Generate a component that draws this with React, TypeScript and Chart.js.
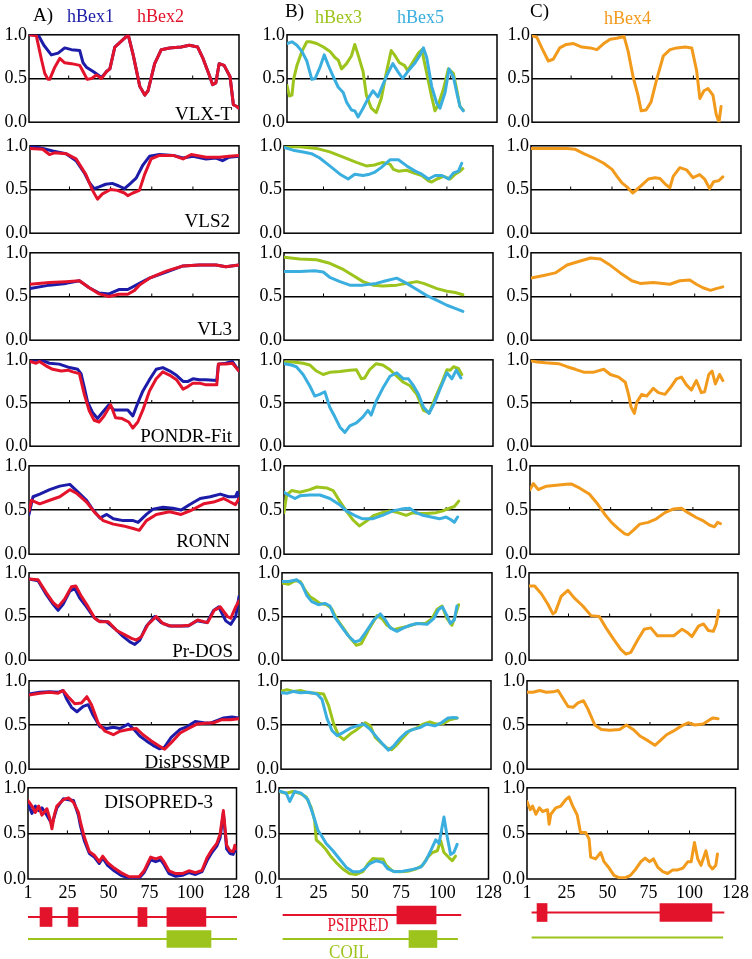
import React, { useEffect, useRef } from 'react';
import { Chart, registerables } from 'chart.js';

Chart.register(...registerables);

type Pt = [number, number];

// ---------- tick labels / categories ----------
const X_TICKS = [1, 25, 50, 75, 100, 128];
const Y_TICKS = [0, 0.5, 1];
const MINOR_TICKS = [25, 50, 75, 100];
const PREDICTORS = ['VLX-T', 'VLS2', 'VL3', 'PONDR-Fit', 'RONN', 'Pr-DOS', 'DisPSSMP', 'DISOPRED-3'];

// ---------- colours ----------
const COLOR_HBEX1 = '#1c1ca8';
const COLOR_HBEX2 = '#e3132c';
const COLOR_HBEX3 = '#9cc41c';
const COLOR_HBEX5 = '#3aaede';
const COLOR_HBEX4 = '#f29a1c';

// ---------- column A : hBex1 / hBex2 ----------
const VLXT_HBEX1_HEAD: Pt[] = [[1, 1.0], [6.5, 1.0], [10, 0.88], [14.5, 0.77], [18.6, 0.79], [22.6, 0.85], [26.7, 0.83], [31.7, 0.82], [33.7, 0.68], [35.7, 0.63], [39.8, 0.58], [42.8, 0.54], [44.8, 0.51]];
const VLXT_HBEX2_HEAD: Pt[] = [[1, 1.0], [5.4, 0.99], [8.5, 0.72], [10.5, 0.56], [12.5, 0.49], [13.5, 0.49], [16.6, 0.63], [19.6, 0.73], [22.6, 0.68], [26.7, 0.67], [31.7, 0.65], [33.7, 0.58], [36.2, 0.49], [38.8, 0.5], [41.8, 0.54], [44.8, 0.5]];
const VLXT_HBEX12_TAIL: Pt[] = [[47.9, 0.58], [49.9, 0.61], [52.9, 0.86], [57, 0.93], [61, 1.0], [64, 0.77], [68, 0.41], [71, 0.31], [73, 0.36], [77, 0.67], [81, 0.83], [86, 0.85], [93, 0.86], [98, 0.88], [103, 0.86], [106, 0.74], [110, 0.54], [112, 0.43], [114, 0.45], [116, 0.67], [119, 0.65], [122.6, 0.52], [124.6, 0.2], [126.7, 0.18], [128, 0.16]];

const VLS2_HBEX1: Pt[] = [[1, 1.0], [8.7, 0.97], [14.8, 0.94], [22.9, 0.91], [29, 0.83], [34, 0.69], [37, 0.58], [40, 0.51], [43, 0.53], [47, 0.56], [51, 0.57], [55, 0.54], [58.4, 0.51], [61.4, 0.56], [65.5, 0.63], [69.6, 0.78], [73.6, 0.88], [79.7, 0.9], [88, 0.89], [94, 0.86], [100, 0.88], [108, 0.85], [114, 0.86], [118, 0.83], [122, 0.87], [128, 0.88]];
const VLS2_HBEX2: Pt[] = [[1, 0.97], [8.7, 0.96], [12.8, 0.9], [15.8, 0.92], [22.9, 0.91], [29, 0.85], [35, 0.67], [39, 0.49], [42, 0.39], [45, 0.45], [50, 0.5], [54, 0.49], [58.4, 0.46], [60.4, 0.43], [63.5, 0.46], [67.5, 0.49], [70.6, 0.67], [74.6, 0.85], [79.7, 0.89], [88, 0.89], [94, 0.85], [99, 0.9], [108, 0.87], [116, 0.87], [122, 0.88], [128, 0.89]];

const VL3_HBEX1: Pt[] = [[1, 0.59], [12.8, 0.63], [22.9, 0.65], [31, 0.68], [37, 0.6], [43, 0.54], [49, 0.53], [55, 0.58], [60.4, 0.58], [67.5, 0.65], [73.6, 0.71], [83.8, 0.78], [94, 0.85], [104, 0.86], [114, 0.86], [120, 0.84], [128, 0.86]];
const VL3_HBEX2: Pt[] = [[1, 0.64], [12.8, 0.66], [22.9, 0.67], [31, 0.68], [37, 0.6], [43, 0.53], [49, 0.5], [55, 0.525], [60.4, 0.525], [64.5, 0.57], [67.5, 0.63], [73.6, 0.71], [83.8, 0.79], [94, 0.85], [104, 0.86], [114, 0.86], [120, 0.84], [128, 0.86]];

const PONDR_HBEX1: Pt[] = [[1, 1.0], [8.7, 0.99], [12.8, 0.96], [18.8, 0.95], [25, 0.91], [30, 0.89], [32, 0.84], [34, 0.68], [36, 0.51], [39, 0.39], [42, 0.32], [45, 0.39], [49, 0.48], [52, 0.42], [56, 0.42], [60.4, 0.42], [63.5, 0.35], [66.5, 0.5], [69.6, 0.64], [73.6, 0.77], [77.7, 0.89], [81.7, 0.91], [86, 0.87], [90, 0.82], [94, 0.75], [97, 0.75], [100, 0.78], [104, 0.77], [108, 0.77], [114.5, 0.76], [115.5, 0.95], [120, 0.96], [124, 0.98], [128, 0.87]];
const PONDR_HBEX2: Pt[] = [[1, 0.98], [4.7, 0.96], [6.7, 0.98], [10.7, 0.93], [14.8, 0.89], [20, 0.87], [24, 0.88], [27, 0.86], [31, 0.84], [34, 0.6], [37, 0.41], [40, 0.3], [43, 0.28], [46, 0.35], [50, 0.48], [53, 0.33], [57, 0.32], [61, 0.28], [63.5, 0.21], [66.5, 0.28], [69.6, 0.42], [73.6, 0.64], [77.7, 0.78], [81.7, 0.86], [86, 0.82], [90, 0.77], [94, 0.66], [97, 0.69], [100, 0.73], [104, 0.73], [108, 0.71], [114.5, 0.71], [115.5, 0.95], [120, 0.95], [124, 0.96], [128, 0.87]];

const RONN_HBEX1: Pt[] = [[1, 0.45], [3.4, 0.65], [7.5, 0.68], [13.5, 0.73], [19.6, 0.77], [25.7, 0.79], [29.7, 0.72], [35.8, 0.61], [39.8, 0.5], [43.9, 0.41], [48, 0.45], [52, 0.4], [58, 0.38], [64, 0.38], [67, 0.36], [72, 0.45], [76, 0.51], [82, 0.53], [88, 0.52], [93, 0.5], [98, 0.56], [104.5, 0.63], [110.6, 0.65], [116.7, 0.68], [121.7, 0.65], [125.8, 0.65], [127, 0.7], [128, 0.59]];
const RONN_HBEX2: Pt[] = [[1, 0.49], [2.5, 0.61], [7.5, 0.57], [13.5, 0.61], [19.6, 0.65], [25.7, 0.73], [29.7, 0.69], [35.8, 0.59], [40.8, 0.47], [45.9, 0.38], [52, 0.34], [58, 0.32], [64, 0.29], [67.7, 0.27], [72, 0.38], [78, 0.45], [86, 0.48], [93, 0.45], [99.5, 0.5], [106.6, 0.57], [112.6, 0.59], [118.7, 0.63], [122.7, 0.59], [125.8, 0.56], [128, 0.63]];

const PRDOS_HBEX1: Pt[] = [[1, 0.93], [6.5, 0.91], [11.5, 0.75], [15.6, 0.64], [18.6, 0.57], [21.6, 0.64], [25.7, 0.79], [28.7, 0.82], [31.7, 0.71], [35.8, 0.61], [39.8, 0.5], [42.9, 0.45], [48, 0.44], [53, 0.36], [58, 0.27], [62, 0.21], [65, 0.18], [68, 0.23], [72, 0.39], [77, 0.5], [81, 0.43], [86, 0.39], [92, 0.39], [97, 0.39], [102.5, 0.45], [108.6, 0.43], [112.6, 0.57], [115.7, 0.61], [120, 0.45], [123, 0.41], [126, 0.5], [128, 0.73]];
const PRDOS_HBEX2: Pt[] = [[1, 0.93], [6.5, 0.92], [11.5, 0.77], [15.6, 0.66], [18.6, 0.61], [22.6, 0.7], [26.7, 0.84], [29.3, 0.85], [32.7, 0.73], [36.8, 0.61], [40.8, 0.48], [43.9, 0.44], [49, 0.44], [54, 0.34], [59, 0.29], [63, 0.25], [66, 0.23], [69, 0.27], [73, 0.41], [78, 0.5], [82, 0.42], [87, 0.39], [93, 0.39], [98, 0.4], [103, 0.46], [109, 0.43], [113, 0.57], [116.7, 0.61], [121, 0.5], [123, 0.48], [126, 0.61], [128, 0.68]];

const DISPSSMP_HBEX1: Pt[] = [[1, 0.85], [7.5, 0.87], [13.5, 0.875], [18.6, 0.87], [21.6, 0.89], [23.6, 0.8], [26.7, 0.7], [30, 0.65], [33.8, 0.71], [36.8, 0.73], [39.8, 0.61], [43.9, 0.48], [48, 0.46], [52, 0.475], [56, 0.46], [61, 0.51], [64, 0.46], [68, 0.375], [72, 0.32], [76, 0.27], [80, 0.23], [83, 0.25], [87, 0.36], [92.4, 0.45], [96.4, 0.48], [101.5, 0.54], [106.6, 0.525], [110.6, 0.52], [114.6, 0.55], [118.7, 0.58], [123.7, 0.59], [128, 0.58]];
const DISPSSMP_HBEX2: Pt[] = [[1, 0.84], [7.5, 0.86], [13.5, 0.87], [18.6, 0.86], [21.6, 0.89], [24.7, 0.82], [28.7, 0.74], [32.7, 0.75], [36, 0.82], [38.8, 0.73], [42.9, 0.52], [47, 0.43], [52, 0.39], [56, 0.43], [61, 0.45], [66, 0.46], [70, 0.39], [75, 0.32], [79, 0.27], [83, 0.225], [87, 0.3], [92.4, 0.41], [97.5, 0.46], [102.5, 0.51], [107.6, 0.52], [112.6, 0.525], [117.7, 0.56], [122.7, 0.56], [128, 0.57]];

const DISOPRED_HBEX1: Pt[] = [[1, 0.83], [3.4, 0.72], [5.5, 0.8], [7.5, 0.75], [9.5, 0.78], [12.5, 0.7], [15.6, 0.6], [18.6, 0.78], [22.6, 0.88], [25.7, 0.87], [28.7, 0.86], [31.7, 0.7], [33, 0.58], [35.3, 0.42], [38.4, 0.28], [41.4, 0.24], [44.4, 0.17], [46.5, 0.23], [49.5, 0.15], [53.5, 0.09], [57.6, 0.04], [62.6, 0.01], [68.7, 0.01], [71.7, 0.07], [75.7, 0.21], [78.8, 0.19], [81.8, 0.21], [83.8, 0.16], [86.9, 0.06], [91, 0.03], [95, 0.04], [99, 0.07], [103, 0.05], [107, 0.08], [110, 0.2], [113, 0.29], [116, 0.36], [118, 0.45], [120, 0.72], [122, 0.33], [124, 0.28], [126, 0.27], [127, 0.33], [128, 0.3]];
const DISOPRED_HBEX2: Pt[] = [[1, 0.86], [3.4, 0.8], [5.5, 0.73], [7.5, 0.8], [9.5, 0.7], [12.5, 0.77], [14.5, 0.65], [15.6, 0.55], [17, 0.7], [18.6, 0.8], [22.6, 0.87], [25.7, 0.89], [28.7, 0.84], [31.7, 0.73], [33, 0.62], [35.3, 0.46], [38.4, 0.3], [41.4, 0.26], [44.4, 0.19], [46.5, 0.25], [49.5, 0.18], [53.5, 0.12], [57.6, 0.07], [62.6, 0.025], [68.7, 0.025], [71.7, 0.09], [75.7, 0.24], [78.8, 0.22], [81.8, 0.24], [83.8, 0.19], [86.9, 0.09], [91, 0.06], [95, 0.06], [99, 0.09], [103, 0.07], [107, 0.095], [110, 0.23], [113, 0.32], [116, 0.39], [118, 0.49], [120, 0.75], [122, 0.37], [124, 0.31], [126, 0.3], [127, 0.37], [128, 0.33]];

// ---------- column B : hBex3 / hBex5 ----------
const VLXT_HBEX3: Pt[] = [[1, 0.42], [2.5, 0.3], [4, 0.31], [5, 0.49], [7, 0.65], [10, 0.81], [13, 0.92], [15, 0.92], [19, 0.9], [23, 0.86], [27, 0.81], [30, 0.74], [32, 0.71], [34, 0.61], [37, 0.67], [40, 0.76], [42, 0.89], [44, 0.77], [47, 0.58], [49, 0.31], [52, 0.16], [55, 0.11], [58, 0.27], [61, 0.56], [64, 0.82], [66, 0.77], [69, 0.68], [72, 0.65], [74, 0.59], [77.5, 0.7], [80.5, 0.79], [82.5, 0.83], [85.5, 0.56], [88.5, 0.29], [90.5, 0.13], [92.5, 0.2], [95.6, 0.38], [98.6, 0.61], [101.6, 0.56], [103.6, 0.38], [105.6, 0.18], [107.6, 0.14]];
const VLXT_HBEX5: Pt[] = [[1, 0.9], [4, 0.92], [7, 0.88], [10, 0.81], [13, 0.7], [16, 0.49], [18, 0.5], [21, 0.63], [23.5, 0.77], [26, 0.65], [29, 0.52], [32, 0.4], [35, 0.34], [37, 0.23], [40, 0.14], [42, 0.13], [44, 0.06], [47, 0.16], [50, 0.27], [53, 0.36], [56, 0.29], [59, 0.43], [62, 0.56], [65, 0.67], [68, 0.58], [71, 0.5], [74, 0.58], [78.5, 0.68], [81.5, 0.77], [83.5, 0.85], [85.5, 0.74], [88.5, 0.41], [91.5, 0.22], [93.5, 0.16], [96.6, 0.34], [99, 0.61], [101.6, 0.52], [104, 0.31], [105.6, 0.18], [107.6, 0.13]];

const VLS2_HBEX3: Pt[] = [[1, 0.99], [10.6, 0.99], [20.7, 0.97], [28.8, 0.93], [37, 0.87], [45, 0.81], [51, 0.77], [56, 0.78], [61, 0.81], [65.4, 0.79], [67.5, 0.73], [70.5, 0.71], [75.6, 0.72], [79.7, 0.69], [84.7, 0.66], [88.8, 0.6], [90.8, 0.585], [93.9, 0.62], [98, 0.65], [102, 0.62], [105, 0.675], [108, 0.71], [109.7, 0.74]];
const VLS2_HBEX5: Pt[] = [[1, 0.98], [6.5, 0.95], [12.6, 0.93], [17.7, 0.91], [22.7, 0.86], [28.8, 0.77], [35, 0.675], [40, 0.62], [44, 0.675], [49, 0.66], [53, 0.675], [56.3, 0.7], [60, 0.75], [65.4, 0.84], [70.5, 0.84], [75.6, 0.77], [80.7, 0.71], [84.7, 0.675], [88.8, 0.62], [92.9, 0.66], [97, 0.66], [101, 0.62], [104, 0.69], [107, 0.71], [109, 0.8]];

const VL3_HBEX3: Pt[] = [[1, 0.95], [10.6, 0.93], [20.7, 0.92], [28.8, 0.88], [37, 0.81], [43, 0.74], [49, 0.67], [55, 0.63], [61, 0.62], [69.5, 0.63], [75.6, 0.65], [81.7, 0.67], [85.8, 0.65], [94, 0.59], [100, 0.56], [105, 0.545], [109.7, 0.52]];
const VL3_HBEX5: Pt[] = [[1, 0.785], [10.6, 0.785], [19.7, 0.795], [24.8, 0.78], [28.8, 0.72], [35, 0.67], [41, 0.63], [49, 0.63], [57, 0.65], [63, 0.68], [69.5, 0.71], [75.6, 0.65], [81.7, 0.58], [87.8, 0.51], [94, 0.455], [100, 0.4], [105, 0.365], [109.7, 0.33]];

const PONDR_HBEX3: Pt[] = [[1, 0.975], [6.5, 0.975], [12.6, 0.96], [16.6, 0.94], [20.7, 0.87], [24.8, 0.83], [28.8, 0.855], [35, 0.865], [41, 0.88], [45, 0.885], [48, 0.78], [50, 0.79], [53, 0.885], [57, 0.955], [61, 0.94], [65.4, 0.885], [69.5, 0.81], [73.6, 0.74], [77.6, 0.7], [81.7, 0.6], [85.8, 0.415], [89.2, 0.385], [92.9, 0.56], [97, 0.74], [100, 0.885], [102, 0.88], [104, 0.92], [107, 0.9], [109, 0.83]];
const PONDR_HBEX5: Pt[] = [[1, 0.955], [5.5, 0.94], [8.5, 0.92], [12.6, 0.83], [16.6, 0.7], [19.7, 0.58], [22.7, 0.6], [25.8, 0.63], [28.8, 0.45], [31.9, 0.34], [35, 0.22], [38, 0.16], [41, 0.235], [45, 0.27], [49, 0.34], [52, 0.415], [54, 0.36], [57, 0.52], [61, 0.67], [65.4, 0.81], [69.5, 0.85], [73.6, 0.78], [76.6, 0.78], [79.7, 0.7], [82.7, 0.6], [85.8, 0.45], [89.2, 0.38], [92.9, 0.52], [96, 0.67], [100, 0.85], [103, 0.78], [105.7, 0.88], [108.5, 0.79]];

const RONN_HBEX3: Pt[] = [[1, 0.47], [2.6, 0.67], [5.7, 0.72], [10.7, 0.7], [16.8, 0.73], [20.9, 0.76], [27, 0.75], [31, 0.72], [35, 0.6], [39, 0.49], [43, 0.39], [47, 0.32], [51, 0.37], [56, 0.44], [61, 0.47], [65.5, 0.49], [70.6, 0.47], [75.6, 0.44], [79.7, 0.47], [83.8, 0.46], [88, 0.46], [94, 0.47], [98, 0.49], [102, 0.52], [105, 0.54], [107.7, 0.6]];
const RONN_HBEX5: Pt[] = [[1, 0.7], [3.6, 0.67], [7.7, 0.63], [10.7, 0.66], [16.8, 0.67], [22.9, 0.67], [29, 0.63], [35, 0.56], [39, 0.49], [44, 0.44], [49, 0.4], [55, 0.4], [61, 0.44], [67.5, 0.49], [72.6, 0.51], [77.7, 0.52], [81.7, 0.47], [85.8, 0.44], [90.8, 0.42], [96, 0.4], [100, 0.42], [103, 0.39], [105, 0.36], [107, 0.42]];

const PRDOS_HBEX3: Pt[] = [[1, 0.885], [5, 0.87], [9, 0.91], [12, 0.9], [15, 0.8], [18, 0.725], [21, 0.69], [24, 0.65], [28, 0.635], [31, 0.59], [34, 0.475], [38, 0.37], [42, 0.26], [46, 0.17], [49, 0.19], [54, 0.37], [58.5, 0.51], [61.5, 0.475], [64.5, 0.4], [68.5, 0.35], [72.6, 0.37], [76.6, 0.385], [82.6, 0.42], [87.7, 0.42], [91.7, 0.475], [94.7, 0.58], [97.8, 0.62], [100.8, 0.475], [103.8, 0.4], [105.8, 0.51], [107.8, 0.635]];
const PRDOS_HBEX5: Pt[] = [[1, 0.9], [5, 0.9], [10, 0.92], [13, 0.87], [16, 0.74], [19, 0.67], [23, 0.635], [27, 0.65], [30, 0.62], [33, 0.49], [37, 0.385], [41, 0.28], [45, 0.21], [48, 0.225], [52, 0.33], [56.5, 0.46], [60.5, 0.53], [63.5, 0.46], [66.5, 0.37], [70.5, 0.33], [74.6, 0.37], [78.6, 0.4], [82.6, 0.42], [88.7, 0.41], [92.7, 0.475], [95.7, 0.58], [98, 0.61], [100.8, 0.51], [102.8, 0.42], [105.2, 0.46], [106.8, 0.62]];

const DISPSSMP_HBEX3: Pt[] = [[1, 0.88], [4.6, 0.9], [8.7, 0.88], [12.7, 0.89], [17.7, 0.865], [22.8, 0.86], [26.8, 0.85], [29.8, 0.72], [32.9, 0.51], [35.9, 0.38], [38.9, 0.335], [43, 0.4], [47, 0.45], [52, 0.525], [55, 0.49], [58, 0.36], [62, 0.29], [65, 0.24], [68, 0.22], [71, 0.275], [75, 0.36], [79, 0.44], [83, 0.465], [87, 0.51], [91, 0.535], [95, 0.51], [99, 0.515], [103, 0.56], [107.5, 0.58]];
const DISPSSMP_HBEX5: Pt[] = [[1, 0.865], [4.6, 0.86], [8.7, 0.88], [12.7, 0.865], [17.7, 0.87], [22.8, 0.85], [25.8, 0.79], [28.8, 0.575], [31.9, 0.435], [35, 0.38], [39, 0.42], [43, 0.465], [47, 0.49], [51, 0.51], [55, 0.45], [59, 0.36], [63, 0.275], [66, 0.215], [69, 0.26], [73, 0.35], [77, 0.42], [81, 0.45], [85, 0.47], [89, 0.51], [94, 0.49], [98, 0.525], [102, 0.58], [105.6, 0.585], [107.5, 0.58]];

const DISOPRED_HBEX3: Pt[] = [[1, 0.96], [5.4, 0.94], [9.5, 0.96], [13.5, 0.94], [17.5, 0.9], [20.6, 0.78], [22.6, 0.64], [23.6, 0.43], [26.6, 0.38], [29.6, 0.32], [32.7, 0.24], [35.7, 0.18], [39.7, 0.11], [43.7, 0.06], [47.8, 0.05], [51.8, 0.08], [54.8, 0.165], [57.9, 0.225], [60.9, 0.22], [64, 0.22], [66, 0.15], [70, 0.085], [74, 0.08], [79, 0.085], [84, 0.11], [88, 0.15], [91, 0.235], [94, 0.29], [97, 0.31], [99, 0.42], [101, 0.29], [104, 0.235], [106, 0.2], [108, 0.25]];
const DISOPRED_HBEX5: Pt[] = [[1, 0.965], [5.4, 0.94], [7.5, 0.85], [10.5, 0.96], [14.5, 0.94], [18.5, 0.87], [21.6, 0.71], [24.6, 0.535], [26.6, 0.48], [29.6, 0.39], [33.7, 0.31], [37.7, 0.22], [41.7, 0.13], [45.8, 0.08], [49.8, 0.08], [52.8, 0.11], [55.8, 0.165], [60, 0.2], [64, 0.18], [67, 0.11], [71, 0.08], [76, 0.085], [82, 0.105], [87, 0.13], [90, 0.2], [93, 0.31], [96, 0.43], [98, 0.39], [101, 0.68], [103, 0.46], [105, 0.27], [107, 0.29], [109, 0.38]];

// ---------- column C : hBex4 ----------
const VLXT_HBEX4: Pt[] = [[1, 0.99], [4, 0.97], [7, 0.85], [11, 0.7], [14, 0.72], [18, 0.85], [22, 0.89], [26.5, 0.9], [31.6, 0.86], [36.7, 0.85], [40.8, 0.83], [45, 0.9], [49, 0.95], [53, 0.96], [57.5, 0.98], [60, 0.81], [63, 0.52], [66, 0.31], [68, 0.13], [71, 0.14], [74, 0.23], [77.5, 0.49], [81.6, 0.76], [85.7, 0.83], [89.8, 0.85], [95, 0.86], [99, 0.85], [102, 0.59], [104, 0.27], [106.5, 0.36], [109, 0.385], [112, 0.31], [114, 0.09], [115.7, 0.0], [117, 0.18]];
const VLS2_HBEX4: Pt[] = [[1, 0.97], [12.7, 0.97], [22.8, 0.97], [27.8, 0.96], [32.9, 0.91], [39, 0.86], [45, 0.8], [50, 0.73], [53, 0.65], [56, 0.575], [59, 0.53], [62.5, 0.46], [65, 0.5], [68, 0.55], [72, 0.62], [76, 0.635], [79, 0.625], [82, 0.565], [85, 0.52], [87, 0.65], [91, 0.75], [95, 0.725], [99, 0.635], [103, 0.67], [106, 0.62], [109, 0.51], [111.5, 0.59], [114.5, 0.6], [117, 0.645]];
const VL3_HBEX4: Pt[] = [[1, 0.71], [8.7, 0.74], [15.7, 0.77], [22.8, 0.86], [29.8, 0.9], [37, 0.94], [43, 0.93], [48, 0.87], [55, 0.77], [62, 0.68], [67, 0.65], [75, 0.66], [85, 0.64], [91, 0.68], [97, 0.69], [101, 0.64], [105, 0.6], [109.5, 0.57], [113, 0.59], [117, 0.61]];
const PONDR_HBEX4: Pt[] = [[1, 0.99], [4.6, 0.975], [9.7, 0.965], [17.7, 0.955], [22.8, 0.92], [27.8, 0.89], [32.9, 0.857], [39, 0.857], [45, 0.89], [49, 0.83], [54, 0.8], [58, 0.74], [60, 0.6], [61.5, 0.455], [63.5, 0.38], [65, 0.51], [68, 0.6], [71, 0.58], [75, 0.67], [78, 0.62], [82, 0.6], [85, 0.67], [89, 0.78], [92, 0.8], [95, 0.71], [98, 0.65], [101, 0.76], [104, 0.62], [106, 0.63], [108.5, 0.83], [110.5, 0.87], [112.5, 0.72], [115, 0.83], [117, 0.76]];
const RONN_HBEX4: Pt[] = [[1, 0.73], [3, 0.8], [6, 0.73], [11, 0.77], [17, 0.78], [23, 0.79], [26, 0.795], [31, 0.75], [37, 0.68], [42, 0.57], [46.5, 0.45], [50.5, 0.36], [54.6, 0.29], [58.6, 0.23], [60.7, 0.22], [63.7, 0.27], [67.7, 0.34], [72.8, 0.36], [77.8, 0.4], [83, 0.47], [88, 0.51], [93, 0.52], [97, 0.47], [102, 0.415], [106, 0.38], [110, 0.33], [113, 0.31], [115, 0.36], [116.7, 0.345]];
const PRDOS_HBEX4: Pt[] = [[1, 0.85], [4.4, 0.85], [8.5, 0.76], [12.5, 0.64], [15.5, 0.53], [17, 0.55], [20.5, 0.73], [24.6, 0.8], [28.6, 0.71], [33.7, 0.62], [38.7, 0.51], [43.7, 0.5], [47.8, 0.37], [52.8, 0.23], [56.8, 0.124], [59.9, 0.07], [62.9, 0.09], [67, 0.23], [71, 0.355], [75, 0.37], [79, 0.28], [84, 0.28], [89, 0.28], [94, 0.355], [97, 0.32], [100, 0.27], [104, 0.39], [107, 0.415], [110, 0.34], [113, 0.33], [114.7, 0.41], [116.3, 0.57]];
const DISPSSMP_HBEX4: Pt[] = [[1, 0.87], [4.6, 0.87], [8.6, 0.89], [12.6, 0.87], [16.7, 0.875], [19.7, 0.89], [22.7, 0.8], [25.7, 0.71], [28.7, 0.7], [31.7, 0.75], [35, 0.775], [37.7, 0.68], [41.8, 0.5], [45.8, 0.45], [50.8, 0.44], [56.8, 0.45], [60.8, 0.5], [64.9, 0.45], [69, 0.375], [74, 0.32], [78, 0.27], [81, 0.32], [85, 0.39], [89, 0.43], [94, 0.49], [98, 0.525], [102, 0.5], [107, 0.51], [111, 0.56], [113, 0.58], [116, 0.57]];
const DISOPRED_HBEX4: Pt[] = [[1, 0.85], [3, 0.76], [4.4, 0.8], [6.4, 0.71], [8.5, 0.78], [10.5, 0.74], [13.5, 0.76], [14.5, 0.6], [15.5, 0.71], [18.5, 0.78], [21.6, 0.8], [24.6, 0.87], [26.6, 0.9], [28.6, 0.81], [31.6, 0.7], [33.6, 0.51], [36.7, 0.51], [38.8, 0.44], [39.8, 0.24], [42.8, 0.22], [45.9, 0.29], [47.9, 0.19], [51, 0.12], [54, 0.04], [57, 0.015], [61, 0.015], [64, 0.04], [67.3, 0.11], [70.4, 0.19], [73, 0.23], [75.5, 0.19], [78, 0.22], [80.6, 0.13], [83.7, 0.08], [86.7, 0.06], [89.8, 0.1], [92.8, 0.1], [96, 0.12], [99, 0.19], [101, 0.19], [103, 0.4], [105, 0.22], [107, 0.15], [110, 0.31], [112, 0.15], [114, 0.11], [116, 0.15], [117, 0.275]];

// ---------- domain annotations (residue ranges) ----------
const A_PSIPRED_SPAN: Pt = [1, 128];
const A_PSIPRED_BOXES: Pt[] = [[8.3, 15.6], [25.3, 31.4], [67.8, 73.3], [85.4, 109.1]];
const A_COIL_SPAN: Pt = [1, 128];
const A_COIL_BOXES: Pt[] = [[85.4, 112.2]];
const B_PSIPRED_SPAN: Pt = [3.4, 111];
const B_PSIPRED_BOXES: Pt[] = [[72.3, 96]];
const B_COIL_SPAN: Pt = [3.4, 109];
const B_COIL_BOXES: Pt[] = [[79.6, 96.5]];
const C_PSIPRED_SPAN: Pt = [4, 120.7];
const C_PSIPRED_BOXES: Pt[] = [[7.1, 13.2], [81.8, 113.4]];
const C_COIL_SPAN: Pt = [4, 120];
const C_COIL_BOXES: Pt[] = [];

// ---------- layout ----------
const SERIF = "'Liberation Serif', 'DejaVu Serif', serif";
const ROW_TOP = [32, 143, 250, 357, 463, 570, 678, 785];
const ROW_BOTTOM = [125, 236, 343, 449, 557, 663, 772, 879];
const COL_LEFT = [
  [29, 30, 30, 30, 29, 29, 29, 28],
  [287, 284, 284, 284, 284, 282, 281, 279],
  [532, 531, 531, 531, 530, 529, 527, 527],
];
const COL_RIGHT = [
  [239, 239, 239, 239, 239, 239, 239, 237],
  [497, 493, 493, 493, 492, 492, 491, 489],
  [739, 741, 741, 741, 739, 738, 738, 736],
];
const Y_AXIS_W = 30;
const PAD_T = 10;
const PAD_R = 16;
const PAD_B = 10;
const X_AXIS_H = 24;

type Series = { data: Pt[]; color: string };

const COLUMNS: Series[][][] = [
  [
    [{ data: [...VLXT_HBEX2_HEAD, ...VLXT_HBEX12_TAIL], color: COLOR_HBEX2 }, { data: [...VLXT_HBEX1_HEAD, ...VLXT_HBEX12_TAIL], color: COLOR_HBEX1 }],
    [{ data: VLS2_HBEX2, color: COLOR_HBEX2 }, { data: VLS2_HBEX1, color: COLOR_HBEX1 }],
    [{ data: VL3_HBEX2, color: COLOR_HBEX2 }, { data: VL3_HBEX1, color: COLOR_HBEX1 }],
    [{ data: PONDR_HBEX2, color: COLOR_HBEX2 }, { data: PONDR_HBEX1, color: COLOR_HBEX1 }],
    [{ data: RONN_HBEX2, color: COLOR_HBEX2 }, { data: RONN_HBEX1, color: COLOR_HBEX1 }],
    [{ data: PRDOS_HBEX2, color: COLOR_HBEX2 }, { data: PRDOS_HBEX1, color: COLOR_HBEX1 }],
    [{ data: DISPSSMP_HBEX2, color: COLOR_HBEX2 }, { data: DISPSSMP_HBEX1, color: COLOR_HBEX1 }],
    [{ data: DISOPRED_HBEX2, color: COLOR_HBEX2 }, { data: DISOPRED_HBEX1, color: COLOR_HBEX1 }],
  ],
  [
    [{ data: VLXT_HBEX5, color: COLOR_HBEX5 }, { data: VLXT_HBEX3, color: COLOR_HBEX3 }],
    [{ data: VLS2_HBEX5, color: COLOR_HBEX5 }, { data: VLS2_HBEX3, color: COLOR_HBEX3 }],
    [{ data: VL3_HBEX5, color: COLOR_HBEX5 }, { data: VL3_HBEX3, color: COLOR_HBEX3 }],
    [{ data: PONDR_HBEX5, color: COLOR_HBEX5 }, { data: PONDR_HBEX3, color: COLOR_HBEX3 }],
    [{ data: RONN_HBEX5, color: COLOR_HBEX5 }, { data: RONN_HBEX3, color: COLOR_HBEX3 }],
    [{ data: PRDOS_HBEX5, color: COLOR_HBEX5 }, { data: PRDOS_HBEX3, color: COLOR_HBEX3 }],
    [{ data: DISPSSMP_HBEX5, color: COLOR_HBEX5 }, { data: DISPSSMP_HBEX3, color: COLOR_HBEX3 }],
    [{ data: DISOPRED_HBEX5, color: COLOR_HBEX5 }, { data: DISOPRED_HBEX3, color: COLOR_HBEX3 }],
  ],
  [
    [{ data: VLXT_HBEX4, color: COLOR_HBEX4 }],
    [{ data: VLS2_HBEX4, color: COLOR_HBEX4 }],
    [{ data: VL3_HBEX4, color: COLOR_HBEX4 }],
    [{ data: PONDR_HBEX4, color: COLOR_HBEX4 }],
    [{ data: RONN_HBEX4, color: COLOR_HBEX4 }],
    [{ data: PRDOS_HBEX4, color: COLOR_HBEX4 }],
    [{ data: DISPSSMP_HBEX4, color: COLOR_HBEX4 }],
    [{ data: DISOPRED_HBEX4, color: COLOR_HBEX4 }],
  ],
];

const framePlugin = {
  id: 'frame',
  beforeDatasetsDraw(chart: any) {
    const { ctx, chartArea: a, scales } = chart;
    ctx.save();
    ctx.strokeStyle = '#000';
    ctx.lineWidth = 1.5;
    ctx.strokeRect(a.left, a.top, a.right - a.left, a.bottom - a.top);
    const y = scales.y.getPixelForValue(0.5);
    ctx.beginPath();
    MINOR_TICKS.forEach((v) => {
      const x = scales.x.getPixelForValue(v);
      ctx.moveTo(x, y);
      ctx.lineTo(x, y - 3);
    });
    ctx.lineWidth = 1;
    ctx.stroke();
    ctx.restore();
  },
};

function Panel({ col, row }: { col: number; row: number }) {
  const ref = useRef<HTMLCanvasElement>(null);
  const bottom = row === 7;
  const pl = COL_LEFT[col][row];
  const pr = COL_RIGHT[col][row];
  const pt = ROW_TOP[row];
  const pb = ROW_BOTTOM[row];
  const W = pr - pl + Y_AXIS_W + PAD_R;
  const H = pb - pt + PAD_T + (bottom ? X_AXIS_H : PAD_B);
  const left = pl - Y_AXIS_W;
  const top = pt - PAD_T;

  useEffect(() => {
    const series = COLUMNS[col][row];
    const chart = new Chart(ref.current as HTMLCanvasElement, {
      type: 'line',
      data: {
        datasets: series.map((s) => ({
          data: s.data.map(([x, y]) => ({ x, y })),
          borderColor: s.color,
          backgroundColor: s.color,
          borderWidth: 3,
          pointRadius: 0,
          fill: false,
          tension: 0,
          borderJoinStyle: 'round',
          borderCapStyle: 'round',
        })),
      },
      options: {
        animation: false,
        responsive: false,
        devicePixelRatio: 1,
        events: [],
        layout: { padding: { left: 0, top: PAD_T, right: PAD_R, bottom: bottom ? 0 : PAD_B } },
        plugins: { legend: { display: false }, tooltip: { enabled: false } },
        scales: {
          x: {
            type: 'linear',
            min: 1,
            max: 128,
            afterBuildTicks: (s: any) => {
              s.ticks = X_TICKS.map((v) => ({ value: v }));
            },
            grid: { display: false, drawTicks: false },
            border: { display: false },
            ticks: {
              display: bottom,
              autoSkip: false,
              maxRotation: 0,
              padding: 3,
              color: '#000',
              font: { family: SERIF, size: 18 },
              callback: (v: any) => String(v),
            },
            afterFit: (s: any) => {
              s.height = bottom ? X_AXIS_H : 0;
            },
          },
          y: {
            type: 'linear',
            min: 0,
            max: 1,
            afterBuildTicks: (s: any) => {
              s.ticks = Y_TICKS.map((v) => ({ value: v }));
            },
            grid: {
              drawTicks: false,
              lineWidth: 1.5,
              color: (c: any) => (c.tick && c.tick.value === 0.5 ? '#000' : 'rgba(0,0,0,0)'),
            },
            border: { display: false },
            ticks: {
              padding: 2,
              color: '#000',
              font: { family: SERIF, size: 18 },
              callback: (v: any) => Number(v).toFixed(1),
            },
            afterFit: (s: any) => {
              s.width = Y_AXIS_W;
            },
          },
        },
      } as any,
      plugins: [framePlugin],
    });
    return () => chart.destroy();
  }, [col, row]);

  return (
    <canvas
      ref={ref}
      width={W}
      height={H}
      style={{ position: 'absolute', left, top, width: W, height: H }}
    />
  );
}

type Track = { color: string; span: Pt; boxes: Pt[]; boxH: number };

function Annotation({ left, width, top, height, tracks }: { left: number; width: number; top: number; height: number; tracks: Track[] }) {
  const ref = useRef<HTMLCanvasElement>(null);
  useEffect(() => {
    const datasets: any[] = [];
    tracks.forEach((t, i) => {
      t.boxes.forEach((b) => {
        datasets.push({
          data: tracks.map((_, j) => (j === i ? b : null)),
          backgroundColor: t.color,
          borderWidth: 0,
          barThickness: t.boxH,
          grouped: false,
        });
      });
    });
    tracks.forEach((t, i) => {
      datasets.push({
        data: tracks.map((_, j) => (j === i ? t.span : null)),
        backgroundColor: t.color,
        borderWidth: 0,
        barThickness: 1.5,
        grouped: false,
      });
    });
    const chart = new Chart(ref.current as HTMLCanvasElement, {
      type: 'bar',
      data: { labels: ['PSIPRED', 'COIL'], datasets },
      options: {
        indexAxis: 'y',
        animation: false,
        responsive: false,
        devicePixelRatio: 1,
        events: [],
        layout: { padding: 0 },
        plugins: { legend: { display: false }, tooltip: { enabled: false } },
        scales: {
          x: { type: 'linear', min: 1, max: 128, display: false },
          y: { type: 'category', display: false, offset: true },
        },
      } as any,
    });
    return () => chart.destroy();
  }, []);
  return (
    <canvas
      ref={ref}
      width={width}
      height={height}
      style={{ position: 'absolute', left, top, width, height }}
    />
  );
}

function Text({ text, x, baseline, size, color = '#000', align = 'left', scaleX = 1 }: { text: string; x: number; baseline: number; size: number; color?: string; align?: 'left' | 'right' | 'center'; scaleX?: number }) {
  const shift = align === 'left' ? '0%' : align === 'right' ? '-100%' : '-50%';
  return (
    <div
      style={{
        position: 'absolute',
        left: x,
        top: baseline - size * 0.8375,
        fontFamily: SERIF,
        fontSize: size,
        lineHeight: `${size}px`,
        color,
        whiteSpace: 'nowrap',
        transform: `translateX(${shift}) scaleX(${scaleX})`,
        transformOrigin: align === 'left' ? 'left center' : align === 'right' ? 'right center' : 'center center',
      }}
    >
      {text}
    </div>
  );
}

const LABEL_POS: { right: number; baseline: number }[] = [
  { right: 232, baseline: 120 },
  { right: 230, baseline: 227 },
  { right: 232, baseline: 335 },
  { right: 232, baseline: 442 },
  { right: 230, baseline: 547 },
  { right: 233, baseline: 657 },
  { right: 230, baseline: 768 },
  { right: 213, baseline: 808 },
];

export default function App() {
  const panels: JSX.Element[] = [];
  for (let c = 0; c < 3; c++) {
    for (let r = 0; r < 8; r++) {
      panels.push(<Panel key={`${c}-${r}`} col={c} row={r} />);
    }
  }
  return (
    <div style={{ position: 'absolute', left: 0, top: 0, width: 752, height: 959, background: '#fff', overflow: 'hidden' }}>
      {panels}
      {PREDICTORS.map((p, i) => (
        <Text key={p} text={p} x={LABEL_POS[i].right} baseline={LABEL_POS[i].baseline} size={19} align="right" />
      ))}
      <Text text="A)" x={33} baseline={21} size={19} />
      <Text text="hBex1" x={67} baseline={22} size={18} color={COLOR_HBEX1} />
      <Text text="hBex2" x={137} baseline={22} size={18} color={COLOR_HBEX2} />
      <Text text="B)" x={285} baseline={17} size={19} />
      <Text text="hBex3" x={315} baseline={23} size={18} color={COLOR_HBEX3} />
      <Text text="hBex5" x={397} baseline={23} size={18} color={COLOR_HBEX5} />
      <Text text="C)" x={530} baseline={17} size={19} />
      <Text text="hBex4" x={604} baseline={24} size={18} color={COLOR_HBEX4} />

      <Annotation
        left={COL_LEFT[0][7]}
        width={COL_RIGHT[0][7] - COL_LEFT[0][7]}
        top={906}
        height={44}
        tracks={[
          { color: COLOR_HBEX2, span: A_PSIPRED_SPAN, boxes: A_PSIPRED_BOXES, boxH: 19 },
          { color: COLOR_HBEX3, span: A_COIL_SPAN, boxes: A_COIL_BOXES, boxH: 17 },
        ]}
      />
      <Annotation
        left={COL_LEFT[1][7]}
        width={COL_RIGHT[1][7] - COL_LEFT[1][7]}
        top={903}
        height={48}
        tracks={[
          { color: COLOR_HBEX2, span: B_PSIPRED_SPAN, boxes: B_PSIPRED_BOXES, boxH: 18 },
          { color: COLOR_HBEX3, span: B_COIL_SPAN, boxes: B_COIL_BOXES, boxH: 17 },
        ]}
      />
      <Annotation
        left={COL_LEFT[2][7]}
        width={COL_RIGHT[2][7] - COL_LEFT[2][7]}
        top={900}
        height={50}
        tracks={[
          { color: COLOR_HBEX2, span: C_PSIPRED_SPAN, boxes: C_PSIPRED_BOXES, boxH: 18 },
          { color: COLOR_HBEX3, span: C_COIL_SPAN, boxes: C_COIL_BOXES, boxH: 17 },
        ]}
      />
      <Text text="PSIPRED" x={358} baseline={931} size={19} color={COLOR_HBEX2} align="center" scaleX={0.8} />
      <Text text="COIL" x={349} baseline={958} size={19} color={COLOR_HBEX3} align="center" scaleX={0.9} />
    </div>
  );
}
